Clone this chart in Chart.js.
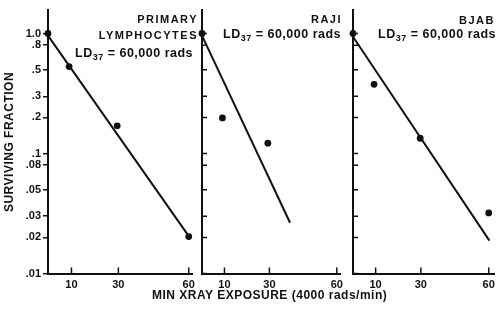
<!DOCTYPE html>
<html>
<head>
<meta charset="utf-8">
<script src="https://cdn.jsdelivr.net/npm/chart.js@4"></script>
<style>
  body { margin: 0; background: #fff; }
  #wrap { position: relative; width: 500px; height: 312px; overflow: hidden;
          font-family: 'Liberation Sans', Arial, sans-serif; font-weight: bold; color: #111; }
  canvas { position: absolute; top: 0; }
  .t { position: absolute; white-space: nowrap; }
  .hd { font-size: 11px; line-height: 11px; letter-spacing: 1.5px; }
  .ld { font-size: 12.5px; line-height: 12.5px; letter-spacing: 0.5px; }
  .ld span { font-size: 9px; position: relative; top: 3px; }
  .ax { font-size: 12px; line-height: 12px; letter-spacing: 0.5px; }
</style>
</head>
<body>
<div id="wrap">
  <canvas id="c1" width="200" height="312" style="left:0"></canvas>
  <canvas id="c2" width="152" height="312" style="left:196px"></canvas>
  <canvas id="c3" width="153" height="312" style="left:347px"></canvas>

  <div class="t hd" style="right:302px; top:14px">PRIMARY</div>
  <div class="t hd" style="right:302px; top:30px">LYMPHOCYTES</div>
  <div class="t ld" style="left:75px; top:47px">LD<span>37</span> = 60,000 rads</div>

  <div class="t hd" style="right:158px; top:14px">RAJI</div>
  <div class="t ld" style="left:223px; top:28px">LD<span>37</span> = 60,000 rads</div>

  <div class="t hd" style="right:5px; top:15px">BJAB</div>
  <div class="t ld" style="left:378px; top:28px">LD<span>37</span> = 60,000 rads</div>

  <div class="t ax" style="left:152px; top:289px">MIN XRAY EXPOSURE (4000 rads/min)</div>
  <div class="t ax" style="left:-91px; top:136px; width:200px; text-align:center; transform:rotate(-90deg)">SURVIVING FRACTION</div>
</div>

<script>
const yTicks = [1, .8, .5, .3, .2, .1, .08, .05, .03, .02, .01]
const yTickLabels = ['1.0', '.8', '.5', '.3', '.2', '.1', '.08', '.05', '.03', '.02', '.01']
const xTicks = [10, 30, 60]

// primary lymphocytes
const lymphX = [0, 9, 29.5, 60]
const lymphY = [1.0, 0.53, 0.17, 0.0203]
const lymphFitX = [0, 60]
const lymphFitY = [0.96, 0.0205]

// raji
const rajiX = [0, 9.1, 29.3]
const rajiY = [1.0, 0.198, 0.122]
const rajiFitX = [0, 39.2]
const rajiFitY = [0.96, 0.0265]

// bjab
const bjabX = [0, 9.3, 29.7, 60]
const bjabY = [1.0, 0.377, 0.134, 0.032]
const bjabFitX = [0, 60.3]
const bjabFitY = [0.94, 0.0188]

const ink = '#111'
Chart.defaults.font.family = "'Liberation Sans', Arial, sans-serif"
Chart.defaults.font.weight = 'bold'
Chart.defaults.color = ink

// small tick marks pointing into the plot
const insideTicks = {
  id: 'insideTicks',
  afterDraw(chart, args, opts) {
    const ctx = chart.ctx
    const area = chart.chartArea
    const xs = chart.scales.x, ys = chart.scales.y
    ctx.save()
    ctx.strokeStyle = ink
    ctx.lineWidth = 1.5
    ctx.beginPath()
    xTicks.forEach(v => {
      const px = xs.getPixelForValue(v)
      ctx.moveTo(px, area.bottom)
      ctx.lineTo(px, area.bottom - 6)
    })
    if (opts.y) {
      yTicks.forEach(v => {
        const py = ys.getPixelForValue(v)
        ctx.moveTo(area.left, py)
        ctx.lineTo(area.left + 5, py)
      })
    }
    ctx.stroke()
    ctx.restore()
  }
}

function pts(xs, ys) {
  return xs.map((x, i) => ({ x: x, y: ys[i] }))
}

function makePanel(id, xs, ys, fitX, fitY, xMax, yWidth, padRight, showLabels) {
  const el = document.getElementById(id)
  if (Chart.getChart(el)) Chart.getChart(el).destroy()
  new Chart(el, {
    type: 'scatter',
    data: {
      datasets: [{
        data: pts(xs, ys),
        pointRadius: 3.4,
        pointBackgroundColor: ink,
        pointBorderWidth: 0,
        showLine: false,
        clip: false
      }, {
        data: pts(fitX, fitY),
        showLine: true,
        pointRadius: 0,
        borderColor: ink,
        borderWidth: 2,
        clip: false
      }]
    },
    options: {
      responsive: false,
      animation: false,
      layout: { padding: { top: 10, right: padRight, left: 0, bottom: 0 } },
      plugins: {
        legend: { display: false },
        tooltip: { enabled: false },
        insideTicks: { y: !showLabels }
      },
      scales: {
        x: {
          type: 'linear',
          min: 0,
          max: xMax,
          afterBuildTicks: s => { s.ticks = xTicks.map(v => ({ value: v })) },
          afterFit: s => { s.height = 38.5 },
          grid: { display: false, drawTicks: false, tickLength: 0 },
          border: { display: true, color: ink, width: 2 },
          ticks: { font: { size: 11 }, padding: 5, autoSkip: false, maxRotation: 0 }
        },
        y: {
          type: 'logarithmic',
          min: 0.01,
          max: 1.57,
          afterBuildTicks: s => { s.ticks = yTicks.map(v => ({ value: v })) },
          afterFit: s => { s.width = yWidth },
          grid: { display: showLabels, drawOnChartArea: false, tickLength: 5, color: ink, lineWidth: 1.5 },
          border: { display: true, color: ink, width: 2 },
          ticks: {
            display: showLabels,
            autoSkip: false,
            font: { size: 11 },
            padding: 2,
            callback: (v, i) => yTickLabels[i]
          }
        }
      }
    },
    plugins: [insideTicks]
  })
}

makePanel('c1', lymphX, lymphY, lymphFitX, lymphFitY, 61.5, 48, 6, true)
makePanel('c2', rajiX, rajiY, rajiFitX, rajiFitY, 61.5, 6, 2, false)
makePanel('c3', bjabX, bjabY, bjabFitX, bjabFitY, 62.4, 6, 1, false)
</script>
</body>
</html>
